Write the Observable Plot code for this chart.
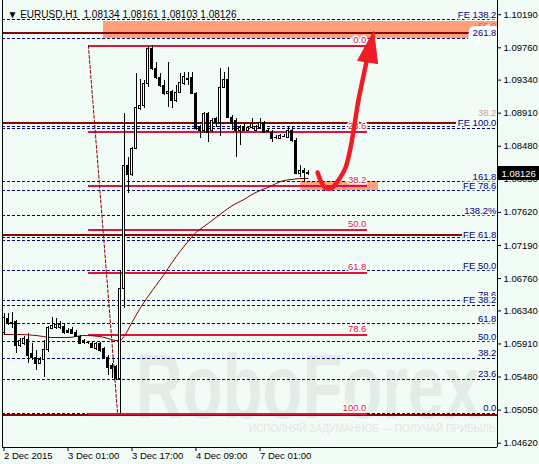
<!DOCTYPE html>
<html><head><meta charset="utf-8">
<script src="https://cdn.jsdelivr.net/npm/d3@7"></script>
<script src="https://cdn.jsdelivr.net/npm/@observablehq/plot@0.6"></script>
<style>
html,body{margin:0;padding:0;background:#f2fcf6;}
#chart{width:539px;height:464px;overflow:hidden}
svg{display:block}
</style></head><body><div id="chart"></div>
<script>
// ---- Candles EURUSD H1 (bar index 0 = 2 Dec 2015) ----
const opens  = [1.06059,1.06241,1.06189,1.06202,1.05890,1.05916,1.05968,1.05786,1.05734,1.05656,1.05708,1.05838,1.06111,1.06124,1.06124,1.06137,1.06085,1.06098,1.06059,1.06007,1.05955,1.05929,1.05916,1.05851,1.05916,1.05851,1.05734,1.05630,1.05617,1.05461,1.06631,1.08230,1.08113,1.08451,1.08971,1.09010,1.09296,1.09751,1.09491,1.09374,1.09270,1.09166,1.09192,1.09075,1.09179,1.09296,1.09361,1.09374,1.09166,1.08724,1.08685,1.08906,1.08685,1.08841,1.08789,1.09244,1.09348,1.08854,1.08815,1.08685,1.08737,1.08685,1.08724,1.08685,1.08724,1.08789,1.08685,1.08659,1.08594,1.08581,1.08607,1.08594,1.08685,1.08555,1.08126,1.08165,1.08134];
const highs  = [1.06306,1.06306,1.06319,1.06215,1.05981,1.06007,1.06046,1.05916,1.05825,1.05734,1.05955,1.06137,1.06254,1.06241,1.06202,1.06176,1.06111,1.06124,1.06085,1.06020,1.05968,1.05942,1.05929,1.05929,1.05929,1.05864,1.05760,1.05656,1.05630,1.06865,1.08906,1.08334,1.08464,1.09426,1.09348,1.09335,1.09777,1.09790,1.09569,1.09426,1.09335,1.09569,1.09205,1.09270,1.09426,1.09439,1.09439,1.09439,1.09179,1.08750,1.08919,1.08919,1.08841,1.08854,1.09491,1.09439,1.09504,1.08880,1.08841,1.08750,1.08763,1.08737,1.08841,1.08750,1.08841,1.08802,1.08711,1.08685,1.08620,1.08633,1.08633,1.08724,1.08724,1.08581,1.08230,1.08191,1.08161];
const lows   = [1.06020,1.06150,1.06111,1.05786,1.05864,1.05890,1.05656,1.05695,1.05565,1.05643,1.05474,1.05799,1.06098,1.06098,1.06098,1.06033,1.06046,1.06033,1.05994,1.05903,1.05903,1.05903,1.05851,1.05825,1.05799,1.05721,1.05500,1.05461,1.05435,1.05006,1.06371,1.07866,1.08087,1.08438,1.08945,1.08971,1.09244,1.09465,1.09348,1.09244,1.09140,1.08984,1.08971,1.09049,1.09166,1.09270,1.09270,1.09153,1.08685,1.08581,1.08646,1.08529,1.08659,1.08724,1.08607,1.09231,1.08841,1.08685,1.08334,1.08490,1.08672,1.08672,1.08698,1.08672,1.08698,1.08646,1.08659,1.08529,1.08568,1.08568,1.08594,1.08581,1.08529,1.08113,1.08074,1.08009,1.08103];
const closes = [1.06254,1.06176,1.06176,1.05890,1.05955,1.05981,1.05760,1.05734,1.05656,1.05708,1.05838,1.06124,1.06150,1.06163,1.06163,1.06059,1.06059,1.06046,1.06007,1.05916,1.05929,1.05923,1.05864,1.05916,1.05825,1.05734,1.05604,1.05591,1.05461,1.06631,1.08230,1.08113,1.08451,1.08984,1.09010,1.09296,1.09751,1.09491,1.09374,1.09270,1.09166,1.09192,1.09075,1.09179,1.09309,1.09387,1.09348,1.09166,1.08711,1.08685,1.08906,1.08659,1.08815,1.08789,1.09244,1.09348,1.08854,1.08776,1.08685,1.08724,1.08685,1.08724,1.08776,1.08737,1.08789,1.08659,1.08672,1.08581,1.08588,1.08620,1.08603,1.08685,1.08555,1.08126,1.08165,1.08134,1.08126];

// moving average (read at bar indices)
const maIdx = [0,4,8,12,16,20,24,26,28,29,30,32,34,36,38,40,42,44,46,48,50,52,54,56,58,60,62,64,66,68,70,72,74,76];
const maVal = [1.06033,1.06033,1.06020,1.05994,1.05994,1.06020,1.06007,1.05981,1.05955,1.05955,1.06007,1.06189,1.06371,1.06527,1.06670,1.06813,1.06969,1.07112,1.07242,1.07359,1.07437,1.07515,1.07593,1.07671,1.07736,1.07788,1.07853,1.07905,1.07944,1.07996,1.08035,1.08048,1.08061,1.08061];

// axes
const yTicks = [1.10190,1.09760,1.09340,1.08910,1.08480,1.08050,1.07620,1.07190,1.06760,1.06340,1.05910,1.05480,1.05050,1.04620];
const xTickIdx = [0,16,32,48,64];
const xTickLabels = ["2 Dec 2015","3 Dec 01:00","3 Dec 17:00","4 Dec 09:00","7 Dec 01:00"];

// Fibonacci retracement (crimson)
const fibLabels = ["0.0","23.6","38.2","50.0","61.8","78.6","100.0"];
const fibPrices = [1.09790,1.08672,1.07970,1.07398,1.06839,1.06033,1.05006];
const fibStart = 21.1, fibEnd = 90.9;
const fibDiagX = [21.1, 28.4];
const fibDiagY = [1.09790, 1.05006];

// Fibonacci expansion levels (navy dashed)
const feLevels = [1.10128,1.09881,1.08737,1.08711,1.08022,1.07905,1.07580,1.07294,1.07255,1.06865,1.06475,1.06410,1.06176,1.05942,1.05721,1.05448,1.05006];
const feLabelText  = ["FE 138.2","161.8","FE 78.6","138.2%","FE 50.0","78.6","FE 38.2","61.8","50.0","38.2","23.6","0.0","FE 100.0","FE 61.8"];
const feLabelPrice = [1.10193,1.08087,1.07970,1.07645,1.06930,1.06553,1.06488,1.06241,1.06007,1.05799,1.05526,1.05084,1.08789,1.07333];

// dark red horizontal lines
const redLinePrice = [1.09959,1.08789,1.07333,1.04993];
const redLineEnd   = [123.4,113.1,114.6,123.4];

// target zones (orange)
const zoneX1 = [24.9, 74.1], zoneX2 = [123.4, 93.6];
const zoneY1 = [1.10108, 1.08016], zoneY2 = [1.09875, 1.07905];

// forecast arrow
const arrowX = [78.4,79.4,80.6,82.1,83.9,85.4,86.6,87.6,88.6,89.9,91.1];
const arrowY = [1.08139,1.08009,1.07931,1.07944,1.08061,1.08204,1.08451,1.08750,1.09075,1.09400,1.09699];
const headX = [92.4,88.4,93.4,92.4];
const headY = [1.09972,1.09595,1.09556,1.09972];

const FONT = "'Liberation Sans', Arial, sans-serif";
const X0 = -0.375, X1 = 123.375, Y0 = 1.04564, Y1 = 1.10375;
const BG = "#f2fcf6";

const candles = opens.map((o,i)=>({i, o, h: highs[i], l: lows[i], c: closes[i], up: closes[i] > opens[i]}));
const ma = maIdx.map((i,k)=>({i, v: maVal[k]}));
const fib = fibPrices.map((p,k)=>({p, t: fibLabels[k]}));
const feLab = feLabelText.map((t,k)=>({t, p: feLabelPrice[k]}));
const redLines = redLinePrice.map((p,k)=>({p, x1: X0, x2: redLineEnd[k]}));
const zones = zoneX1.map((x,k)=>({x1:x, x2:zoneX2[k], y1:zoneY1[k], y2:zoneY2[k]}));
const arrow = arrowX.map((x,k)=>({x, y: arrowY[k]}));
const head = headX.map((x,k)=>({x, y: headY[k]}));
const diag = fibDiagX.map((x,k)=>({x, y: fibDiagY[k]}));
const last = candles[candles.length-1];
const title = `\u25BC EURUSD,H1  ${last.o.toFixed(5)} ${last.h.toFixed(5)} ${last.l.toFixed(5)} ${last.c.toFixed(5)}`;

const NAVY = "#000080", CRIMSON = "#dc143c", MAROON = "#8b0000";

const plot = Plot.plot({
  width: 539, height: 464,
  marginTop: 0, marginBottom: 17, marginLeft: 2, marginRight: 42,
  style: {background: BG, fontFamily: FONT, fontSize: "9px", color: "black", overflow: "visible"},
  x: {domain: [X0, X1]},
  y: {domain: [Y0, Y1]},
  marks: [
    // watermark
    Plot.text(["RoboForex"], {frameAnchor: "bottom-left", dx: 133, dy: -30, textAnchor: "start", fontSize: 90, fontWeight: "bold", fill: "#e4ece8"}),
    Plot.text(["ИСПОЛНЯЙ ЗАДУМАННОЕ — ПОЛУЧАЙ ПРИБЫЛЬ"], {frameAnchor: "bottom-right", dx: -2, dy: -16, textAnchor: "end", fontSize: 10, fill: "#dfe7e3"}),
    Plot.rect(zones, {x1: "x1", x2: "x2", y1: "y1", y2: "y2", fill: "#ffa07a", shapeRendering: "crispEdges"}),
    Plot.ruleY(feLevels, {y: d => d, x1: () => X0, x2: () => X1, stroke: NAVY, strokeWidth: 1, strokeDasharray: "3,2", shapeRendering: "crispEdges"}),
    Plot.ruleY(redLines, {y: "p", x1: "x1", x2: "x2", stroke: MAROON, strokeWidth: 2, shapeRendering: "crispEdges"}),
    Plot.ruleY(fib, {y: "p", x1: () => fibStart, x2: () => fibEnd, stroke: CRIMSON, strokeWidth: 2, shapeRendering: "crispEdges"}),
    Plot.line(diag, {x: "x", y: "y", stroke: MAROON, strokeWidth: 1, strokeDasharray: "3,2"}),
    Plot.line(ma, {x: "i", y: "v", stroke: MAROON, strokeWidth: 1, curve: "monotone-x"}),
    Plot.ruleX(candles, {x: "i", y1: "l", y2: "h", stroke: "black", strokeWidth: 1, shapeRendering: "crispEdges"}),
    Plot.rect(candles, {x1: d => d.i - 0.25, x2: d => d.i + 0.25, y1: "o", y2: "c", fill: d => d.up ? "white" : "black", stroke: "black", strokeWidth: 1, shapeRendering: "crispEdges"}),
    // crimson fib labels
    Plot.text(fib, {x: () => fibEnd - 0.3, y: "p", text: "t", dy: -6, textAnchor: "end", fill: CRIMSON, stroke: "white", strokeWidth: 3, fontSize: 9.5}),
    // faint partially hidden labels
    Plot.text([{t: "50.0", p: 1.10050}, {t: "38.2", p: 1.08919}], {x: () => 123.1, y: "p", text: "t", textAnchor: "end", fill: "#b03030", fillOpacity: 0.5, fontSize: 9.5}),
    // expansion labels
    Plot.text(feLab, {x: () => 123.1, y: "p", text: "t", textAnchor: "end", fill: NAVY, stroke: BG, strokeWidth: 3, fontSize: 9.5}),
    Plot.text([{t: "261.8", p: 1.09959}], {x: () => 123.1, y: "p", text: "t", textAnchor: "end", fill: NAVY, stroke: "white", strokeWidth: 8, strokeLinejoin: "miter", fontSize: 9.5}),
    // forecast arrow
    Plot.line(arrow, {x: "x", y: "y", stroke: "#ee1c25", strokeWidth: 4.5, curve: "catmull-rom", strokeLinecap: "round"}),
    Plot.line(head, {x: "x", y: "y", stroke: "#ee1c25", fill: "#ee1c25", strokeWidth: 1}),
    // frame
    Plot.ruleX([X0, X1], {stroke: "black", shapeRendering: "crispEdges"}),
    Plot.ruleY([Y0], {x1: () => X0, x2: () => X1, stroke: "black", shapeRendering: "crispEdges"}),
    // axes
    Plot.axisY(yTicks, {anchor: "right", tickSize: 3, tickPadding: 3, tickFormat: d => d.toFixed(5), fontSize: 9.5, label: null}),
    Plot.axisX(xTickIdx, {anchor: "bottom", tickSize: 4, tickPadding: 1, tickFormat: d => xTickLabels[xTickIdx.indexOf(d)], textAnchor: "start", fontSize: 9.5, label: null}),
    // current price marker
    Plot.rect([last], {x1: () => X1 + 0.2, x2: () => X1 + 10.6, y1: d => d.c - 0.00091, y2: d => d.c + 0.00091, fill: "black", shapeRendering: "crispEdges"}),
    Plot.text([last], {x: () => X1, y: "c", dx: 4, text: d => d.c.toFixed(5), textAnchor: "start", fill: "white", fontSize: 9.5}),
    // title
    Plot.text([title], {frameAnchor: "top-left", dx: 5, dy: 10, textAnchor: "start", fontSize: 10, fill: "black"})
  ]
});

// squeeze the watermark to its width in the reference
d3.select(plot).selectAll("text").filter(function() { return this.textContent === "RoboForex"; })
  .attr("textLength", 345).attr("lengthAdjust", "spacingAndGlyphs");

document.getElementById("chart").appendChild(plot);
</script>
</body></html>
